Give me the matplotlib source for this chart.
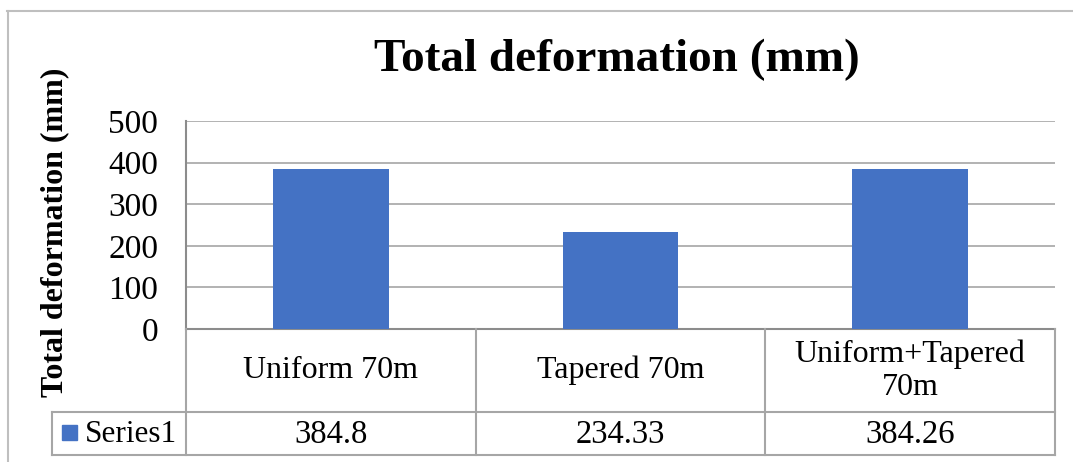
import matplotlib
matplotlib.use("Agg")
import matplotlib.pyplot as plt
from matplotlib.transforms import blended_transform_factory
from matplotlib.lines import Line2D
from matplotlib.patches import Rectangle

categories = ["Uniform 70m", "Tapered 70m", "Uniform+Tapered\n70m"]
values = [384.8, 234.33, 384.26]
value_labels = ["384.8", "234.33", "384.26"]
series_name = "Series1"
title = "Total deformation (mm)"
ylabel = "Total deformation (mm)"
yticks = [0, 100, 200, 300, 400, 500]

W, H = 1073, 462
DPI = 100
plt.rcParams['font.family'] = ['Liberation Serif', 'DejaVu Serif']

fig = plt.figure(figsize=(W / DPI, H / DPI), dpi=DPI)
fig.patch.set_facecolor("white")

def fx(px):
    return px / W

def fy(py):
    return 1 - py / H

left, right, top, bottom = 186, 1055, 121, 329
ax = fig.add_axes([fx(left), fy(bottom), fx(right) - fx(left), fy(top) - fy(bottom)])

bar_color = "#4472C4"
grid_color = "#A6A6A6"
table_color = "#A6A6A6"
axis_color = "#8C8C8C"

x = list(range(len(categories)))
ax.bar(x, values, width=0.4, color=bar_color, zorder=3)
ax.set_xlim(-0.5, len(categories) - 0.5)
ax.set_ylim(0, 500)
ax.set_yticks(yticks)
ax.set_yticklabels([str(t) for t in yticks], fontsize=24)
ax.tick_params(axis='y', length=0, pad=20)
ax.set_xticks([])
ax.yaxis.grid(True, color=grid_color, linewidth=1.2, zorder=0)
for s in ["top", "right"]:
    ax.spines[s].set_visible(False)
ax.spines["left"].set_color(axis_color)
ax.spines["left"].set_linewidth(1.5)
ax.spines["bottom"].set_color(axis_color)
ax.spines["bottom"].set_linewidth(1.5)

# Title and y label
fig.text(fx(617), fy(60), title, ha="center", va="center",
         fontsize=34, fontweight="bold")
fig.text(fx(55), fy(232), ylabel, ha="center", va="center",
         rotation=90, fontsize=23, fontweight="bold")

# Data table
tr = blended_transform_factory(ax.transData, fig.transFigure)
row1_bot = 412
row2_bot = 455
n = len(categories)
for i in range(n + 1):
    xb = i - 0.5
    fig.add_artist(Line2D([xb, xb], [fy(bottom), fy(row2_bot)], transform=tr,
                          color=table_color, linewidth=1.5))
for yy in (row1_bot, row2_bot):
    fig.add_artist(Line2D([fx(52), fx(right)], [fy(yy), fy(yy)],
                          transform=fig.transFigure, color=table_color, linewidth=1.5))
fig.add_artist(Line2D([fx(52), fx(52)], [fy(row1_bot), fy(row2_bot)],
                      transform=fig.transFigure, color=table_color, linewidth=1.5))

for i, (c, v) in enumerate(zip(categories, value_labels)):
    fig.text(i, fy((bottom + row1_bot) / 2), c, transform=tr, ha="center",
             va="center", fontsize=23, linespacing=1.2)
    fig.text(i, fy((row1_bot + row2_bot) / 2 + 1), v, transform=tr, ha="center",
             va="center", fontsize=23.5)

# legend key in table
fig.add_artist(Rectangle((fx(62), fy(440)), fx(15), fy(425) - fy(440),
                         transform=fig.transFigure, color=bar_color))
fig.text(fx(85), fy(434), series_name, ha="left", va="center", fontsize=22.5)

# chart frame
frame_color = "#BFBFBF"
fig.add_artist(Line2D([fx(7), 1.0], [fy(10.5), fy(10.5)], transform=fig.transFigure,
                      color=frame_color, linewidth=1.5))
fig.add_artist(Line2D([fx(7.5), fx(7.5)], [fy(10.5), 0.0], transform=fig.transFigure,
                      color=frame_color, linewidth=1.5))

fig.savefig("out.png", dpi=DPI, facecolor="white")
